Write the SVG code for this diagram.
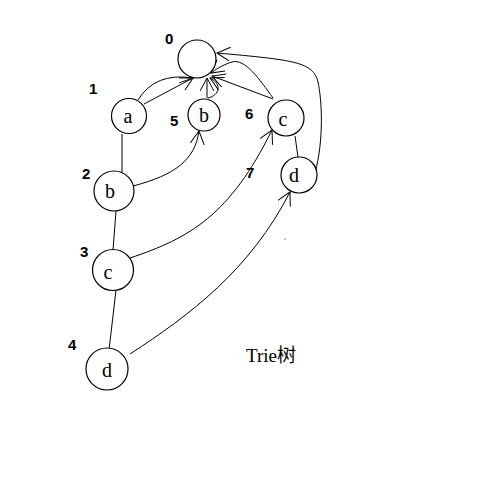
<svg xmlns="http://www.w3.org/2000/svg" width="500" height="500" viewBox="0 0 500 500">
<style>
.n{fill:#fff;stroke:#000;stroke-width:1.2}
.t{font-family:"Liberation Serif",serif;font-size:20px;fill:#000;text-anchor:middle}
.l{font-family:"Liberation Sans",sans-serif;font-size:15px;font-weight:bold;fill:#000}
.e{fill:none;stroke:#000;stroke-width:1}
.a{marker-end:url(#ar)}
</style>
<defs>
<marker id="ar" markerWidth="16" markerHeight="16" refX="13" refY="7" orient="auto" markerUnits="userSpaceOnUse">
<path d="M0,0 L13,7 L0,14" fill="none" stroke="#000" stroke-width="1"/>
</marker>
</defs>
<rect width="500" height="500" fill="#fff"/>
<g id="connectors">
<path class="e a" d="M144,104 L193,78"/>
<path class="e a" d="M138,100 Q155,72 193,78"/>
<path class="e a" d="M207,98 L207,78"/>
<path class="e a" d="M208,98 C220,95 222,84 210,78"/>
<path class="e a" d="M273,99 L212,76"/>
<path class="e a" d="M273,98 C260,80 245,58 232,62 C222,65 215,70 211,73"/>
<path class="e a" d="M315,173 C324,140 322,100 318,82 C313,62 295,60 217,53"/>
<path class="e" d="M295,136 L298,157"/>
<path class="e" d="M122,134 L122,173" stroke="#999"/>
<path class="e a" d="M133,186 C175,175 195,160 199,131"/>
<path class="e" d="M116,211 L113,250"/>
<path class="e a" d="M130,258 C190,238 230,215 272,130"/>
<path class="e" d="M116,290 L109,350"/>
<path class="e a" d="M130,354 C190,315 250,270 290,192"/>
</g>
<g id="node0"><circle class="n" cx="197" cy="59" r="19"/></g>
<g id="node1"><circle class="n" cx="129" cy="116" r="17.5"/><text class="t" x="128" y="123">a</text></g>
<g id="node5"><circle class="n" cx="204" cy="115" r="16"/><text class="t" x="204" y="122">b</text></g>
<g id="node6"><circle class="n" cx="286" cy="118" r="18"/><text class="t" x="283" y="126">c</text></g>
<g id="node7"><circle class="n" cx="299" cy="175" r="18"/><text class="t" x="294" y="182">d</text></g>
<g id="node2"><circle class="n" cx="114" cy="191" r="20"/><text class="t" x="110" y="198">b</text></g>
<g id="node3"><circle class="n" cx="113" cy="270" r="20.5"/><text class="t" x="108" y="279">c</text></g>
<g id="node4"><circle class="n" cx="107" cy="369" r="21"/><text class="t" x="107" y="377">d</text></g>
<g id="labels">
<text class="l" x="165" y="44">0</text>
<text class="l" x="89" y="94">1</text>
<text class="l" x="170" y="126">5</text>
<text class="l" x="245" y="119">6</text>
<text class="l" x="82" y="179">2</text>
<text class="l" x="246" y="178">7</text>
<text class="l" x="80" y="257">3</text>
<text class="l" x="68" y="350">4</text>
<text x="246" y="362" style="font-family:'Liberation Serif','Noto Sans CJK SC',serif;font-size:19px">Trie树</text>
</g>
<circle cx="285" cy="239" r="0.6" fill="#000"/>
</svg>
